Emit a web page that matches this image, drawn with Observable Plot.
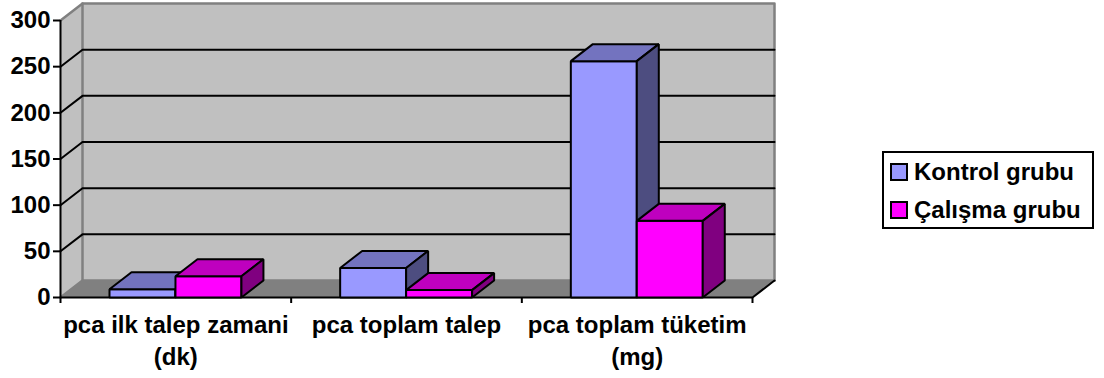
<!DOCTYPE html>
<html>
<head>
<meta charset="utf-8">
<script src="https://cdn.jsdelivr.net/npm/d3@7"></script>
<script src="https://cdn.jsdelivr.net/npm/@observablehq/plot@0.6"></script>
<style>
  html, body { margin: 0; padding: 0; background: #fff; }
  #chart { position: relative; width: 1104px; height: 378px; font-family: "Liberation Sans", Arial, sans-serif; }
  #legend {
    position: absolute; left: 882px; top: 151px; width: 208px; height: 74px;
    border: 2px solid #000; background: #fff; font-weight: bold; font-size: 24px; color: #000;
  }
  #legend .row { position: absolute; left: 6px; display: flex; align-items: center; height: 20px; white-space: nowrap; }
  #legend .swatch { width: 14px; height: 14px; border: 2px solid #000; margin-right: 6px; }
</style>
</head>
<body>
<div id="chart"></div>
<script>
// Values per measure
const categories = ["pca ilk talep zamani\n(dk)", "pca toplam talep", "pca toplam tüketim\n(mg)"];
const kontrol = [9, 32, 256];
const calisma = [23, 8, 83];
const seriesNames = ["Kontrol grubu", "Çalışma grubu"];
const yTicks = [0, 50, 100, 150, 200, 250, 300];

// Palette for the front, top and side face of each series
const palette = [
  {front: "#9999ff", top: "#7373bf", side: "#4d4d80"},
  {front: "#ff00ff", top: "#bf00bf", side: "#800080"}
];

// Oblique depth expressed in axis units, plus bar layout within a category
const depthX = 0.0954;
const depthY = 18.4;
const barWidth = 0.286;
const groupStart = 0.2124;
const n = categories.length;
const yMax = 300;

const faces = [];
let faceId = 0;
function face(points, fill) {
  const id = faceId++;
  for (const [x, y] of points) faces.push({id, x, y, fill});
}

// Draws one oblique box: front face, top and right side
function box(x0, value, colors) {
  const x1 = x0 + barWidth;
  face([[x0, 0], [x1, 0], [x1, value], [x0, value]], colors.front);
  face([[x0, value], [x1, value], [x1 + depthX, value + depthY], [x0 + depthX, value + depthY]], colors.top);
  face([[x1, 0], [x1 + depthX, depthY], [x1 + depthX, value + depthY], [x1, value]], colors.side);
}

[kontrol, calisma].forEach((values, s) => {
  values.forEach((v, i) => box(i + groupStart + s * barWidth, v, palette[s]));
});

// Chart room: back wall, left wall and floor
const wallBack = [[depthX, depthY], [n + depthX, depthY], [n + depthX, yMax + depthY], [depthX, yMax + depthY]];
const wallLeft = [[0, 0], [depthX, depthY], [depthX, yMax + depthY], [0, yMax]];
const floor = [[0, 0], [n, 0], [n + depthX, depthY], [depthX, depthY]];
const room = [];
[[wallBack, "#c0c0c0"], [wallLeft, "#c0c0c0"], [floor, "#808080"]].forEach(([pts, fill], id) => {
  for (const [x, y] of pts) room.push({id, x, y, fill});
});

// Gridlines run across the left wall and then along the back wall
const grid = yTicks.filter(v => v > 0 && v < yMax).flatMap(v => [
  {v, x: 0, y: v},
  {v, x: depthX, y: v + depthY},
  {v, x: n + depthX, y: v + depthY}
]);
const roomEdges = [
  {id: 0, x: 0, y: yMax}, {id: 0, x: depthX, y: yMax + depthY}, {id: 0, x: n + depthX, y: yMax + depthY}, {id: 0, x: n + depthX, y: depthY},
  {id: 1, x: depthX, y: yMax + depthY}, {id: 1, x: depthX, y: depthY}, {id: 1, x: n + depthX, y: depthY},
  {id: 2, x: 0, y: 0}, {id: 2, x: depthX, y: depthY}
];
const floorEdge = [{x: n, y: 0}, {x: n + depthX, y: depthY}];

const plot = Plot.plot({
  width: 1104,
  height: 378,
  marginLeft: 60,
  marginRight: 352,
  marginTop: 20,
  marginBottom: 81,
  style: {fontFamily: '"Liberation Sans", Arial, sans-serif', background: "transparent", overflow: "visible"},
  x: {domain: [0, n], axis: null},
  y: {domain: [0, yMax], axis: null},
  color: {type: "identity"},
  marks: [
    Plot.line(room, {x: "x", y: "y", z: "id", fill: "fill", stroke: null, curve: "linear-closed"}),
    Plot.line(roomEdges, {x: "x", y: "y", z: "id", stroke: "#808080", strokeWidth: 2.5}),
    Plot.line(grid, {x: "x", y: "y", z: "v", stroke: "#000", strokeWidth: 2}),
    Plot.line(floorEdge, {x: "x", y: "y", stroke: "#000", strokeWidth: 2}),
    Plot.ruleX([0], {y1: 0, y2: yMax, stroke: "#000", strokeWidth: 2}),
    Plot.ruleY([0], {x1: 0, x2: n, stroke: "#000", strokeWidth: 2}),
    Plot.line(faces, {x: "x", y: "y", z: "id", fill: "fill", stroke: "#000", strokeWidth: 2, strokeLinejoin: "miter", curve: "linear-closed"}),
    Plot.axisY({
      ticks: yTicks, tickSize: 7, tickPadding: 3, strokeWidth: 2, stroke: "#000",
      fontSize: 24, fontWeight: "bold", fill: "#000", label: null
    }),
    Plot.axisX({
      ticks: d3.range(n + 1), tickSize: 6, strokeWidth: 2, stroke: "#000",
      tickFormat: () => "", label: null
    }),
    Plot.axisX({
      ticks: categories.map((_, i) => i + 0.5), tickSize: 0, tickPadding: 13,
      tickFormat: d => categories[Math.floor(d)], lineHeight: 1.33,
      fontSize: 24, fontWeight: "bold", fill: "#000", label: null
    })
  ]
});

const chart = document.getElementById("chart");
chart.appendChild(plot);

// Series key placed beside the plot
const legend = document.createElement("div");
legend.id = "legend";
seriesNames.forEach((name, i) => {
  const row = document.createElement("div");
  row.className = "row";
  row.style.top = (9 + i * 38) + "px";
  const sw = document.createElement("span");
  sw.className = "swatch";
  sw.style.background = palette[i].front;
  row.appendChild(sw);
  row.appendChild(document.createTextNode(name));
  legend.appendChild(row);
});
chart.appendChild(legend);
</script>
</body>
</html>
